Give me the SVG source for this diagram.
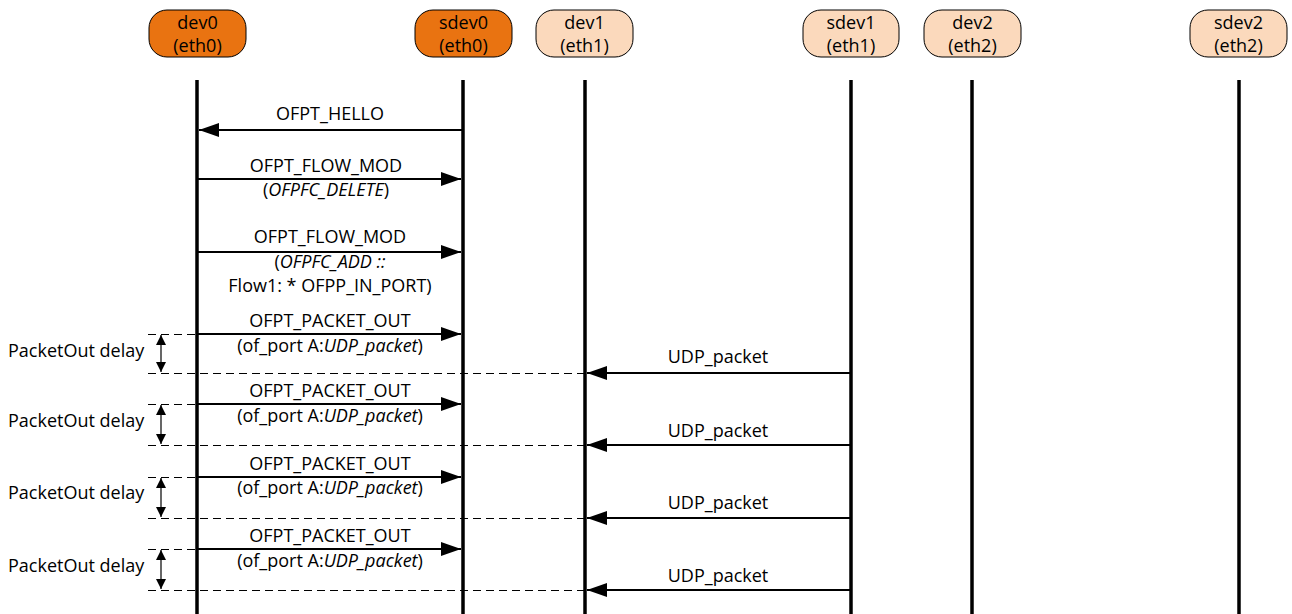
<svg xmlns="http://www.w3.org/2000/svg" width="1292" height="614" viewBox="0 0 1292 614">
<style>
.node rect{stroke:#000;stroke-width:1}
.dark rect{fill:#E97311}
.light rect{fill:#FBD9BC}
text{font-family:"Open Sans","Liberation Sans",sans-serif;font-size:18px;fill:#000;text-anchor:middle}
.life{stroke:#000;stroke-width:3.5}
.msg{stroke:#000;stroke-width:2;fill:none}
.dash{stroke:#000;stroke-width:1.2;stroke-dasharray:8,5;fill:none}
.delay{stroke:#000;stroke-width:1.2;fill:none}
.lbl{text-anchor:start}
</style>
<defs>
<marker id="ah" viewBox="0 0 20 14" refX="20" refY="7" markerWidth="20" markerHeight="14" markerUnits="userSpaceOnUse" orient="auto">
<path d="M0,0 L20,7 L0,14 Z" fill="#000"/>
</marker>
<marker id="sh" viewBox="0 0 10 10" refX="10" refY="5" markerWidth="10" markerHeight="10" markerUnits="userSpaceOnUse" orient="auto-start-reverse">
<path d="M0,0 L10,5 L0,10 Z" fill="#000"/>
</marker>
</defs>
<g id="dev0" class="node dark"><rect x="149" y="10" width="97" height="47" rx="18"/><text x="197.5" y="29">dev0</text><text x="197.5" y="52">(eth0)</text></g>
<g id="sdev0" class="node dark"><rect x="415" y="10" width="97" height="47" rx="18"/><text x="463.5" y="29">sdev0</text><text x="463.5" y="52">(eth0)</text></g>
<g id="dev1" class="node light"><rect x="536" y="10" width="97" height="47" rx="18"/><text x="584.5" y="29">dev1</text><text x="584.5" y="52">(eth1)</text></g>
<g id="sdev1" class="node light"><rect x="803" y="10" width="96" height="47" rx="18"/><text x="851" y="29">sdev1</text><text x="851" y="52">(eth1)</text></g>
<g id="dev2" class="node light"><rect x="924" y="10" width="97" height="47" rx="18"/><text x="972.5" y="29">dev2</text><text x="972.5" y="52">(eth2)</text></g>
<g id="sdev2" class="node light"><rect x="1190" y="10" width="97" height="47" rx="18"/><text x="1238.5" y="29">sdev2</text><text x="1238.5" y="52">(eth2)</text></g>
<g id="lifelines">
<line class="life" x1="197" y1="80" x2="197" y2="614"/>
<line class="life" x1="463" y1="80" x2="463" y2="614"/>
<line class="life" x1="585" y1="80" x2="585" y2="614"/>
<line class="life" x1="851" y1="80" x2="851" y2="614"/>
<line class="life" x1="972" y1="80" x2="972" y2="614"/>
<line class="life" x1="1239" y1="80" x2="1239" y2="614"/>
</g>
<g id="connectors">
<line class="msg" x1="462" y1="130" x2="199" y2="130" marker-end="url(#ah)"/>
<line class="msg" x1="198" y1="179" x2="461" y2="179" marker-end="url(#ah)"/>
<line class="msg" x1="198" y1="252" x2="461" y2="252" marker-end="url(#ah)"/>
<line class="msg" x1="198" y1="334" x2="461" y2="334" marker-end="url(#ah)"/>
<line class="msg" x1="198" y1="404" x2="461" y2="404" marker-end="url(#ah)"/>
<line class="msg" x1="198" y1="477" x2="461" y2="477" marker-end="url(#ah)"/>
<line class="msg" x1="198" y1="549" x2="461" y2="549" marker-end="url(#ah)"/>
<line class="msg" x1="850" y1="373" x2="587" y2="373" marker-end="url(#ah)"/>
<line class="msg" x1="850" y1="445" x2="587" y2="445" marker-end="url(#ah)"/>
<line class="msg" x1="850" y1="518" x2="587" y2="518" marker-end="url(#ah)"/>
<line class="msg" x1="850" y1="590" x2="587" y2="590" marker-end="url(#ah)"/>
<line class="dash" x1="148" y1="334.5" x2="197" y2="334.5"/>
<line class="dash" x1="148" y1="373.5" x2="585" y2="373.5"/>
<line class="dash" x1="148" y1="404.5" x2="197" y2="404.5"/>
<line class="dash" x1="148" y1="445.5" x2="585" y2="445.5"/>
<line class="dash" x1="148" y1="477.5" x2="197" y2="477.5"/>
<line class="dash" x1="148" y1="518.5" x2="585" y2="518.5"/>
<line class="dash" x1="148" y1="549.5" x2="197" y2="549.5"/>
<line class="dash" x1="148" y1="590.5" x2="585" y2="590.5"/>
<line class="delay" x1="161" y1="335" x2="161" y2="372" marker-start="url(#sh)" marker-end="url(#sh)"/>
<line class="delay" x1="161" y1="405" x2="161" y2="444" marker-start="url(#sh)" marker-end="url(#sh)"/>
<line class="delay" x1="161" y1="478" x2="161" y2="517" marker-start="url(#sh)" marker-end="url(#sh)"/>
<line class="delay" x1="161" y1="550" x2="161" y2="589" marker-start="url(#sh)" marker-end="url(#sh)"/>
</g>
<g id="labels">
<text x="330" y="120">OFPT_HELLO</text>
<text x="326" y="172">OFPT_FLOW_MOD</text>
<text x="326" y="196">(<tspan font-style="italic">OFPFC_DELETE</tspan>)</text>
<text x="330" y="243">OFPT_FLOW_MOD</text>
<text x="330" y="268">(<tspan font-style="italic">OFPFC_ADD ::</tspan></text>
<text x="330" y="292">Flow1: * OFPP_IN_PORT)</text>
<text x="330" y="327">OFPT_PACKET_OUT</text>
<text x="330" y="352">(of_port A:<tspan font-style="italic">UDP_packet</tspan>)</text>
<text x="330" y="397">OFPT_PACKET_OUT</text>
<text x="330" y="422">(of_port A:<tspan font-style="italic">UDP_packet</tspan>)</text>
<text x="330" y="470">OFPT_PACKET_OUT</text>
<text x="330" y="494">(of_port A:<tspan font-style="italic">UDP_packet</tspan>)</text>
<text x="330" y="542">OFPT_PACKET_OUT</text>
<text x="330" y="567">(of_port A:<tspan font-style="italic">UDP_packet</tspan>)</text>
<text x="718" y="363">UDP_packet</text>
<text x="718" y="437">UDP_packet</text>
<text x="718" y="509">UDP_packet</text>
<text x="718" y="582">UDP_packet</text>
<text class="lbl" x="8" y="357">PacketOut delay</text>
<text class="lbl" x="8" y="427">PacketOut delay</text>
<text class="lbl" x="8" y="499">PacketOut delay</text>
<text class="lbl" x="8" y="572">PacketOut delay</text>
</g>
</svg>
